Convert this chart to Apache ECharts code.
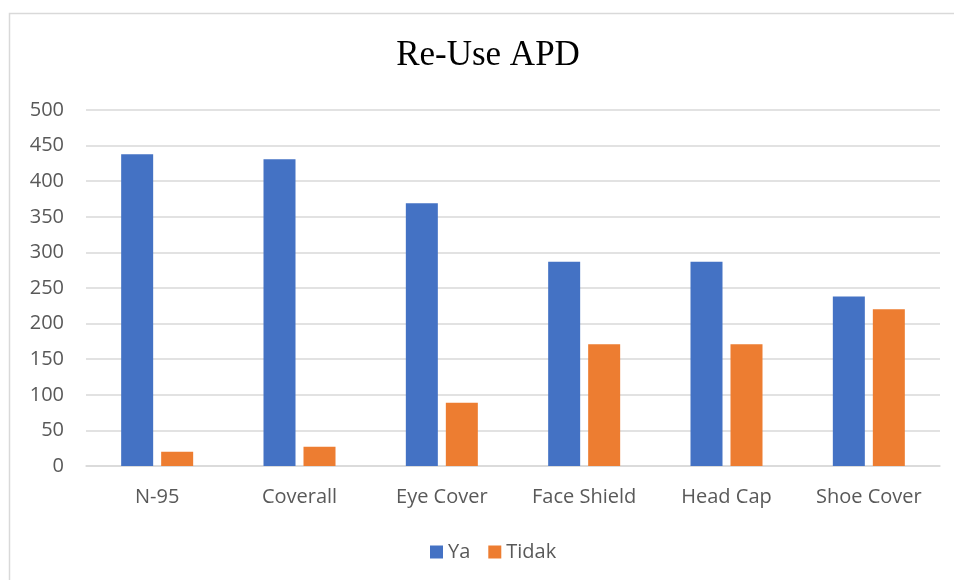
<!DOCTYPE html>
<html>
<head>
<meta charset="utf-8">
<script src="https://cdn.jsdelivr.net/npm/echarts@6/dist/echarts.min.js"></script>
<style>
  html, body { margin: 0; padding: 0; background: #fff; }
  #chart { width: 954px; height: 580px; }
</style>
</head>
<body>
<div id="chart"></div>
<script>
// Re-use of PPE items: yes / no answers
const categories = ['N-95', 'Coverall', 'Eye Cover', 'Face Shield', 'Head Cap', 'Shoe Cover'];
const yaValues = [438, 431, 369, 287, 287, 238];
const tidakValues = [20, 27, 89, 171, 171, 220];
const seriesNames = ['Ya', 'Tidak'];
const yTicks = { min: 0, max: 500, interval: 50 };

const labelFont = '"Open Sans", "Liberation Sans", sans-serif';
const textGrey = '#595959';
const lineGrey = '#d9d9d9';

const chart = echarts.init(document.getElementById('chart'), null, { renderer: 'canvas' });

chart.setOption({
  animation: false,
  backgroundColor: '#ffffff',
  graphic: [
    {
      // chart-area frame (runs off the right and bottom edges)
      type: 'rect',
      shape: { x: 9.5, y: 13.5, width: 980, height: 600 },
      style: { fill: 'none', stroke: lineGrey, lineWidth: 1.5 },
      silent: true,
      z: -1
    },
    {
      type: 'text',
      x: 488,
      y: 38,
      style: {
        text: 'Re-Use APD',
        align: 'center',
        verticalAlign: 'top',
        fontFamily: '"Liberation Serif", "Times New Roman", serif',
        fontSize: 35,
        fill: '#000000'
      },
      silent: true
    }
  ],
  legend: {
    data: seriesNames,
    bottom: 18,
    left: 430,
    padding: 0,
    itemWidth: 13,
    itemHeight: 13,
    itemGap: 18,
    icon: 'rect',
    textStyle: { fontFamily: labelFont, fontSize: 20, color: textGrey }
  },
  grid: { left: 86, right: 14, top: 110, bottom: 114, containLabel: false },
  xAxis: {
    type: 'category',
    data: categories,
    axisTick: { show: false },
    axisLine: { show: true, lineStyle: { color: lineGrey, width: 1.5 } },
    axisLabel: { interval: 0, fontFamily: labelFont, fontSize: 20, color: textGrey, margin: 21 }
  },
  yAxis: {
    type: 'value',
    min: yTicks.min,
    max: yTicks.max,
    interval: yTicks.interval,
    axisLine: { show: false },
    axisTick: { show: false },
    splitLine: { lineStyle: { color: lineGrey, width: 1.5 } },
    axisLabel: { fontFamily: labelFont, fontSize: 20, color: textGrey, margin: 22 }
  },
  series: [
    {
      name: seriesNames[0],
      type: 'bar',
      data: yaValues,
      barWidth: 32,
      barGap: '25%',
      itemStyle: { color: '#4472c4' }
    },
    {
      name: seriesNames[1],
      type: 'bar',
      data: tidakValues,
      barWidth: 32,
      itemStyle: { color: '#ed7d31' }
    }
  ]
});
</script>
</body>
</html>
